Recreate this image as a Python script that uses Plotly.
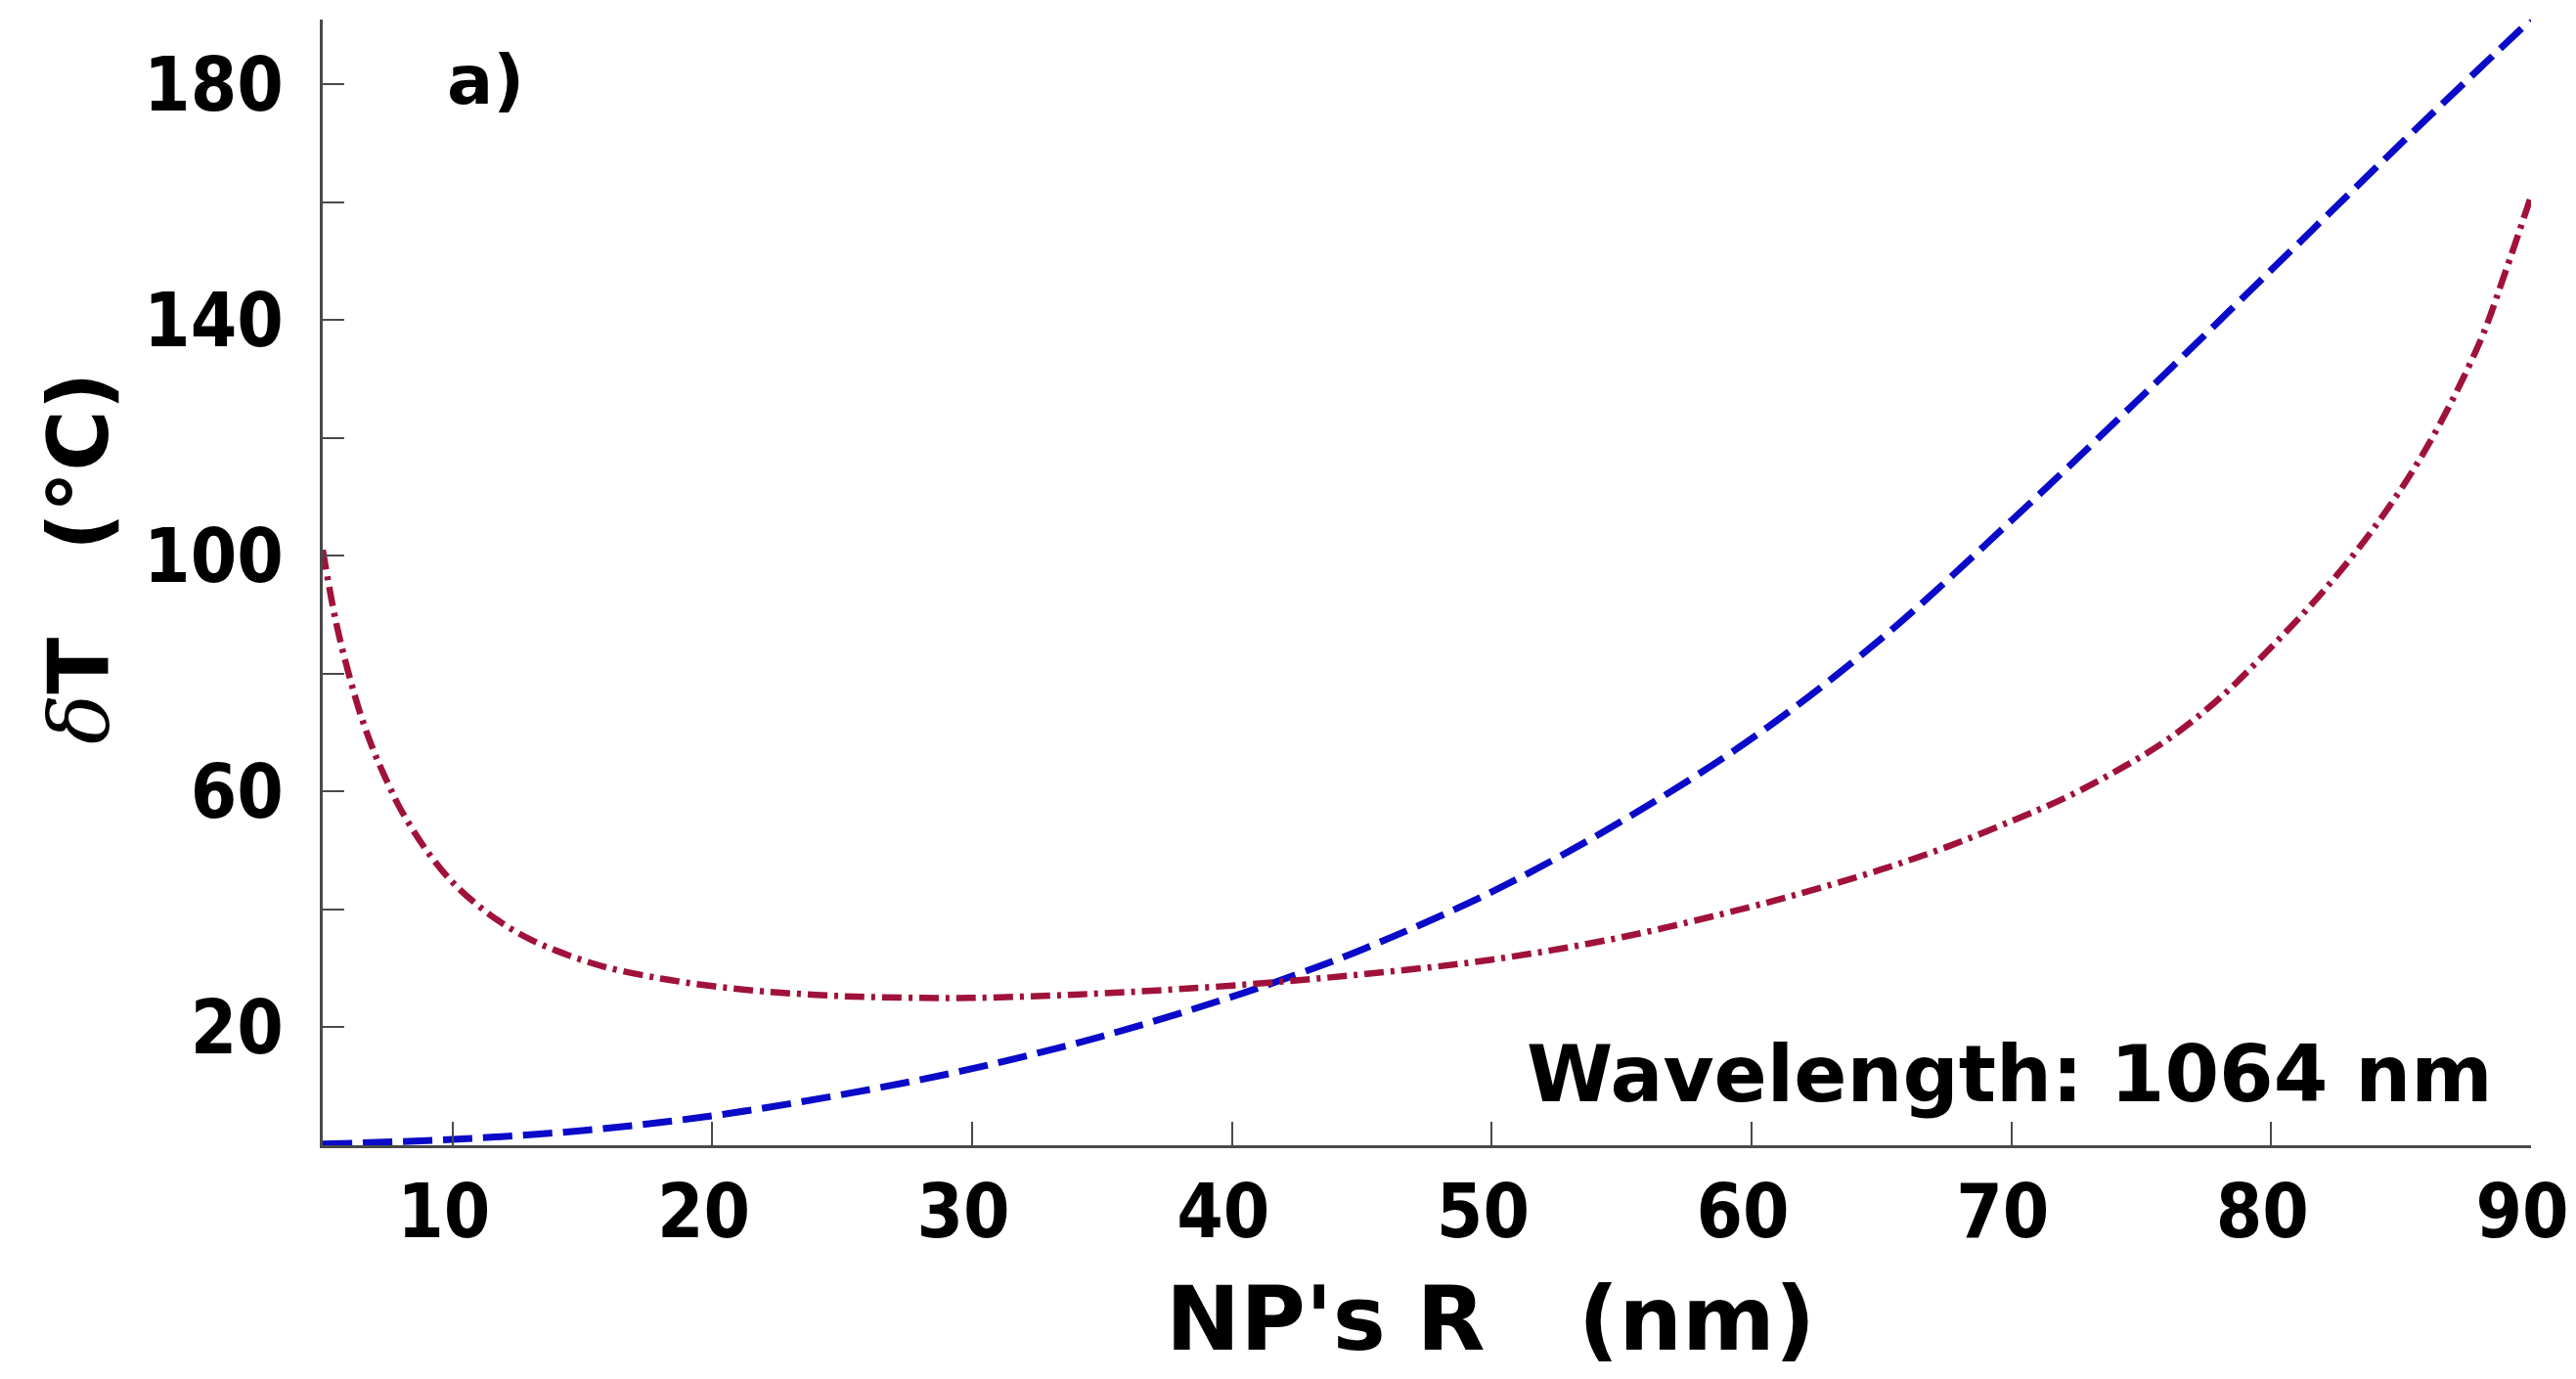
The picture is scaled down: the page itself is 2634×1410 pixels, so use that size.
import plotly.graph_objects as go

# ---- data ----
r_blue = [5, 10, 15, 20, 25, 30, 35, 40, 42.5, 45, 50, 55, 60, 65, 70, 75, 80, 85, 90]
dT_blue = [0.2, 1.0, 2.5, 5.0, 8.6, 13.0, 18.5, 25.2, 29.0, 33.2, 43.0, 55.0, 69.0,
           86.0, 106.0, 127.0, 148.5, 170.0, 191.0]

r_red = [5, 5.5, 6, 6.5, 7, 7.5, 8, 9, 10, 11, 12, 13, 14, 15, 16, 18, 20, 22, 25, 28,
         30, 33, 36, 40, 45, 50, 55, 60, 62.5, 65, 67.5, 70, 72, 74, 76, 78, 80, 82, 84,
         86, 88, 89, 90]
dT_red = [101, 89, 80, 72.5, 66.5, 61.5, 57, 50, 44.6, 40.6, 37.4, 34.9, 33, 31.4, 30.1,
          28.3, 27.0, 26.1, 25.3, 25.0, 25.0, 25.4, 26.0, 27.1, 29.0, 31.5, 35.3, 40.5,
          43.5, 46.8, 50.6, 55.0, 58.8, 63.4, 68.8, 75.8, 84.5, 94.0, 105.0, 118.5,
          136.0, 148.0, 161.0]

x_ticks = [10, 20, 30, 40, 50, 60, 70, 80, 90]
x_tick_text = ["10", "20", "30", "40", "50", "60", "70", "80", "90"]
y_ticks = [20, 40, 60, 80, 100, 120, 140, 160, 180]
y_tick_text = ["20", "", "60", "", "100", "", "140", "", "180"]

x_title = "NP's R\u00a0\u00a0\u00a0(nm)"
y_title = ("<span style='font-family:DejaVu Serif;font-weight:normal;font-style:italic'>δ</span>"
           "T\u00a0\u00a0\u00a0(°C)")
panel_label = "a)"
note = "Wavelength: 1064 nm"

W, H = 2634, 1410
L, R, T, B = 330, 46, 20, 239

fig = go.Figure()
fig.add_trace(go.Scatter(
    x=r_blue, y=dT_blue, mode="lines", line_shape="spline",
    line=dict(color="rgb(10,10,200)", width=7, dash="30px,11px"),
    showlegend=False))
fig.add_trace(go.Scatter(
    x=r_red, y=dT_red, mode="lines", line_shape="spline",
    line=dict(color="rgb(160,18,58)", width=6.5, dash="20px,7px,4px,7px"),
    showlegend=False))

axis_col = "#4a4a4a"
tick_font = dict(family="DejaVu Sans Condensed, DejaVu Sans", size=76, color="black", weight="bold")

fig.update_layout(
    width=W, height=H, autosize=False,
    margin=dict(l=L, r=R, t=T, b=B, pad=0),
    paper_bgcolor="white", plot_bgcolor="white",
    xaxis=dict(range=[5, 90], showgrid=False, zeroline=False, automargin=False,
               showline=True, linecolor=axis_col, linewidth=3,
               ticks="inside", ticklen=24, tickwidth=2, tickcolor=axis_col,
               tickvals=x_ticks, ticktext=x_tick_text, tickfont=tick_font,
               ticklabelstandoff=0, ticklabelshift=-9, ticklabeloverflow="allow"),
    yaxis=dict(range=[0, 191], showgrid=False, zeroline=False, automargin=False,
               showline=True, linecolor=axis_col, linewidth=3,
               ticks="inside", ticklen=22, tickwidth=2, tickcolor=axis_col,
               tickvals=y_ticks, ticktext=y_tick_text, tickfont=tick_font,
               ticklabelstandoff=22, ticklabeloverflow="allow"),
)

common = dict(xref="paper", yref="paper", showarrow=False)
pw = W - L - R
ph = H - T - B

def px_x(x):
    return (x - L) / pw

def px_y(y):
    return (H - B - y) / ph

fig.add_annotation(text=x_title, x=px_x(1524), y=px_y(1348), xanchor="center", yanchor="middle",
                   font=dict(family="DejaVu Sans", size=91, color="black", weight="bold"), **common)
fig.add_annotation(text=y_title, x=px_x(80), y=px_y(571), xanchor="center", yanchor="middle",
                   textangle=-90,
                   font=dict(family="DejaVu Sans", size=85, color="black", weight="bold"), **common)
fig.add_annotation(text=panel_label, x=px_x(496), y=px_y(82), xanchor="center", yanchor="middle",
                   font=dict(family="DejaVu Sans", size=70, color="black", weight="bold"), **common)
fig.add_annotation(text=note, x=px_x(2055), y=px_y(1098), xanchor="center", yanchor="middle",
                   font=dict(family="DejaVu Sans", size=80, color="black", weight="bold"), **common)

fig.write_html("out.html")
